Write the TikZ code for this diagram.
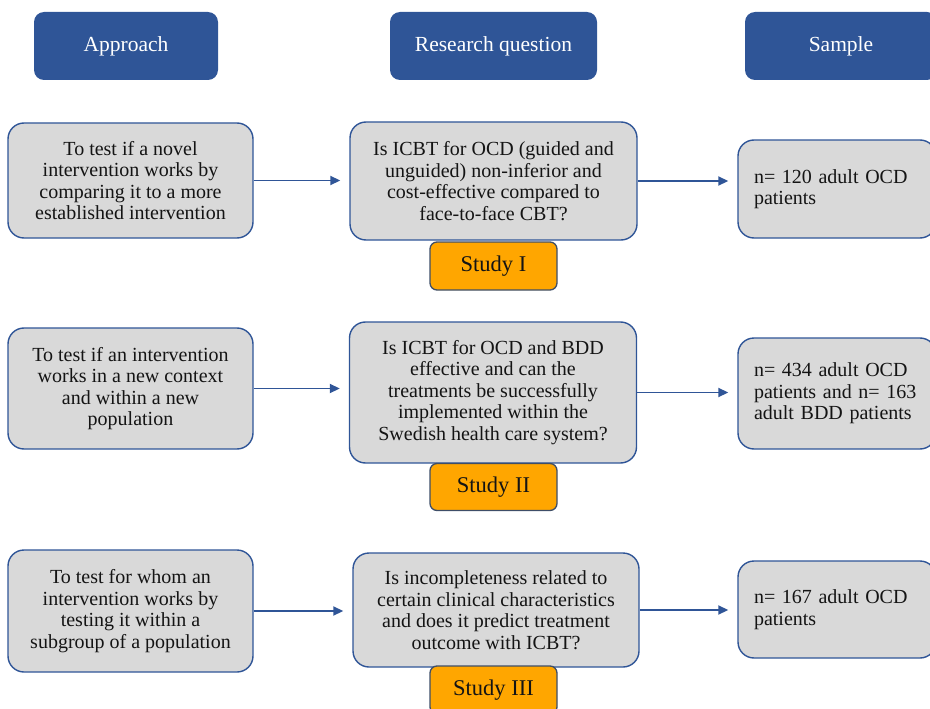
\documentclass[tikz,border=0pt]{standalone}
\usepackage{fontspec}
\setmainfont{Liberation Serif}
\usetikzlibrary{arrows.meta}
\definecolor{hdrblue}{RGB}{47,85,151}
\definecolor{boxgray}{RGB}{217,217,217}
\definecolor{studyorange}{RGB}{255,166,0}
\definecolor{studyedge}{RGB}{62,78,104}
\definecolor{txt}{RGB}{20,20,20}
\begin{document}
\begin{tikzpicture}[x=1pt,y=-1pt,
  hdr/.style={fill=hdrblue, draw=none, rounded corners=10pt, text=white,
    font=\fontsize{21.5}{24}\selectfont, minimum height=68pt, inner sep=0pt},
  qbox/.style={fill=boxgray, draw=hdrblue, line width=1.4pt, rounded corners=16pt,
    align=center, text=txt, font=\fontsize{20}{21.5}\selectfont, inner sep=0pt},
  smp/.style={qbox, align=left, text width=166pt, inner xsep=16pt},
  studybox/.style={fill=studyorange, draw=studyedge, line width=1.3pt, rounded corners=7pt,
    minimum width=127pt, minimum height=48pt, text=txt, font=\fontsize{22.5}{24}\selectfont},
  arr/.style={draw=hdrblue, line width=1.8pt, -{Triangle[length=10pt,width=9pt]}, shorten >=9pt}
]
\useasboundingbox (0,0) rectangle (930,709);
\clip (0,0) rectangle (930,709);

% headers
\node[hdr, minimum width=184pt] (h1) at (126,46) {Approach};
\node[hdr, minimum width=207pt] (h2) at (493.5,46) {Research question};
\node[hdr, minimum width=192pt] (h3) at (841,46) {Sample};

% row 1
\node[qbox, minimum width=245pt, minimum height=115pt] (a1) at (130.5,180.5)
  {To test if a novel\\intervention works by\\comparing it to a more\\established intervention};
\node[qbox, minimum width=287pt, minimum height=118pt] (q1) at (493.5,181)
  {Is ICBT for OCD (guided and\\unguided) non-inferior and\\cost-effective compared to\\face-to-face CBT?};
\node[studybox] (s1) at (493.5,266) {Study I};
\node[smp, minimum width=198pt, minimum height=98pt] (r1) at (837,189)
  {n= 120 adult OCD\\patients};

% row 2
\node[qbox, minimum width=245pt, minimum height=121pt] (a2) at (130.5,388.5)
  {To test if an intervention\\works in a new context\\and within a new\\population};
\node[qbox, minimum width=287pt, minimum height=141pt] (q2) at (493,392.5)
  {Is ICBT for OCD and BDD\\effective and can the\\treatments be successfully\\implemented within the\\Swedish health care system?};
\node[studybox, minimum height=47pt] (s2) at (493.5,487) {Study II};
\node[smp, minimum width=198pt, minimum height=111pt] (r2) at (837,393.5)
  {n= 434 adult OCD\\patients and n= 163\\adult BDD patients};

% row 3
\node[qbox, minimum width=245pt, minimum height=122pt] (a3) at (130.5,611)
  {To test for whom an\\intervention works by\\testing it within a\\subgroup of a population};
\node[qbox, minimum width=286pt, minimum height=114pt] (q3) at (496,610)
  {Is incompleteness related to\\certain clinical characteristics\\and does it predict treatment\\outcome with ICBT?};
\node[studybox] (s3) at (493.5,690) {Study III};
\node[smp, minimum width=198pt, minimum height=97pt] (r3) at (837,609.5)
  {n= 167 adult OCD\\patients};

% arrows
\draw[arr] (a1.east) -- (a1.east -| q1.west);
\draw[arr] (q1.east) -- (q1.east -| r1.west);
\draw[arr] (a2.east) -- (a2.east -| q2.west);
\draw[arr] (q2.east) -- (q2.east -| r2.west);
\draw[arr] (a3.east) -- (a3.east -| q3.west);
\draw[arr] (q3.east) -- (q3.east -| r3.west);
\end{tikzpicture}
\end{document}
